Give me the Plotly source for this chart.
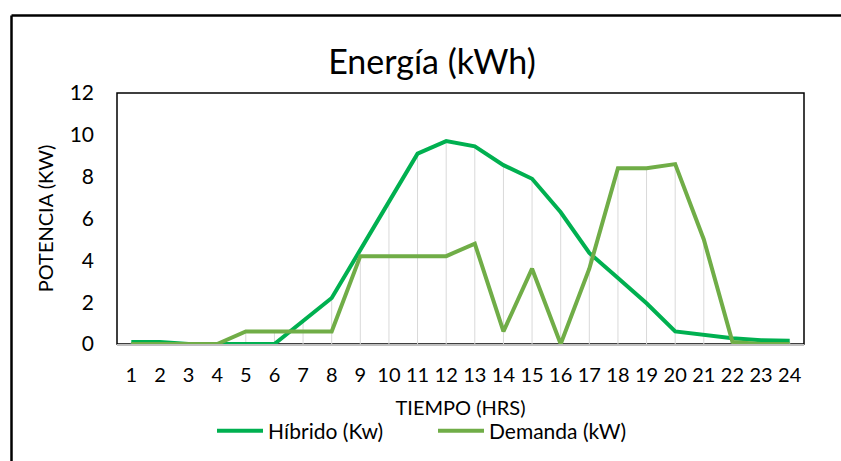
import plotly.graph_objects as go

hours = [str(i) for i in range(1, 25)]
hibrido = [0.1, 0.1, 0, 0, 0, 0, 1.1, 2.2, 4.5, 6.8, 9.1, 9.7, 9.45, 8.55, 7.9, 6.3, 4.35, 3.15, 1.95, 0.6, 0.45, 0.27, 0.18, 0.15]
demanda = [0, 0, 0, 0, 0.6, 0.6, 0.6, 0.6, 4.2, 4.2, 4.2, 4.2, 4.8, 0.6, 3.6, 0, 3.6, 8.4, 8.4, 8.6, 5.0, 0.1, 0, 0]
yticks = [0, 2, 4, 6, 8, 10, 12]

FONT = "Lato"
W, H = 841, 461
L, R, T, B = 117, 37, 93, 117
pw, ph = W - L - R, H - T - B

fig = go.Figure()

# drop lines from highest point to axis
dx, dy = [], []
for h, a, b in zip(hours, hibrido, demanda):
    dx += [h, h, None]
    dy += [0, max(a, b), None]
fig.add_trace(go.Scatter(x=dx, y=dy, mode="lines", line=dict(color="#D9D9D9", width=1),
                         showlegend=False, hoverinfo="skip"))

fig.add_trace(go.Scatter(x=hours, y=hibrido, mode="lines", name="Híbrido (Kw)",
                         line=dict(color="#00B050", width=4)))
fig.add_trace(go.Scatter(x=hours, y=demanda, mode="lines", name="Demanda (kW)",
                         line=dict(color="#70AD47", width=4)))

def px_x(p):
    return (p - L) / pw

def px_y(p):
    return (H - B - p) / ph

fig.update_layout(
    width=W, height=H,
    margin=dict(l=L, r=R, t=T, b=B, autoexpand=False),
    paper_bgcolor="white", plot_bgcolor="white",
    font=dict(family=FONT, color="#000000", size=20),
    title=dict(text="Energía (kWh)", xref="container", x=432 / W, xanchor="center",
               yref="container", y=1 - 62 / H, yanchor="middle",
               font=dict(size=34, family=FONT)),
    xaxis=dict(type="category", range=[-0.5, 23.5], showgrid=False, showline=True,
               linecolor="#BFBFBF", linewidth=1.5, ticks="", ticklabelstandoff=12,
               tickfont=dict(size=20), title=dict(text="TIEMPO (HRS)", standoff=16,
                                                   font=dict(size=20))),
    yaxis=dict(range=[0, 12], tickvals=yticks, showgrid=False, zeroline=False,
               showline=False, ticks="", ticklabelstandoff=22, tickfont=dict(size=21),
               title=dict(text="POTENCIA (KW)", standoff=10, font=dict(size=20))),
    legend=dict(orientation="h", x=px_x(433), xanchor="center", y=px_y(431),
                yanchor="middle", font=dict(size=21), bgcolor="rgba(0,0,0,0)",
                itemwidth=46, entrywidth=160, entrywidthmode="pixels"),
    showlegend=True,
    shapes=[
        dict(type="rect", xref="paper", yref="paper", x0=0, x1=1, y0=0, y1=1,
             line=dict(color="#000000", width=1.5), layer="below"),
        dict(type="line", xref="paper", yref="paper", x0=px_x(11.5), x1=px_x(11.5),
             y0=px_y(15.5), y1=px_y(470), line=dict(color="#000000", width=2.5)),
        dict(type="line", xref="paper", yref="paper", x0=px_x(11.5), x1=px_x(850),
             y0=px_y(15.5), y1=px_y(15.5), line=dict(color="#000000", width=2.5)),
    ],
)

fig.write_html("out.html", config={"displayModeBar": False},
               post_script="document.body.style.margin='0';document.body.style.overflow='hidden';")
